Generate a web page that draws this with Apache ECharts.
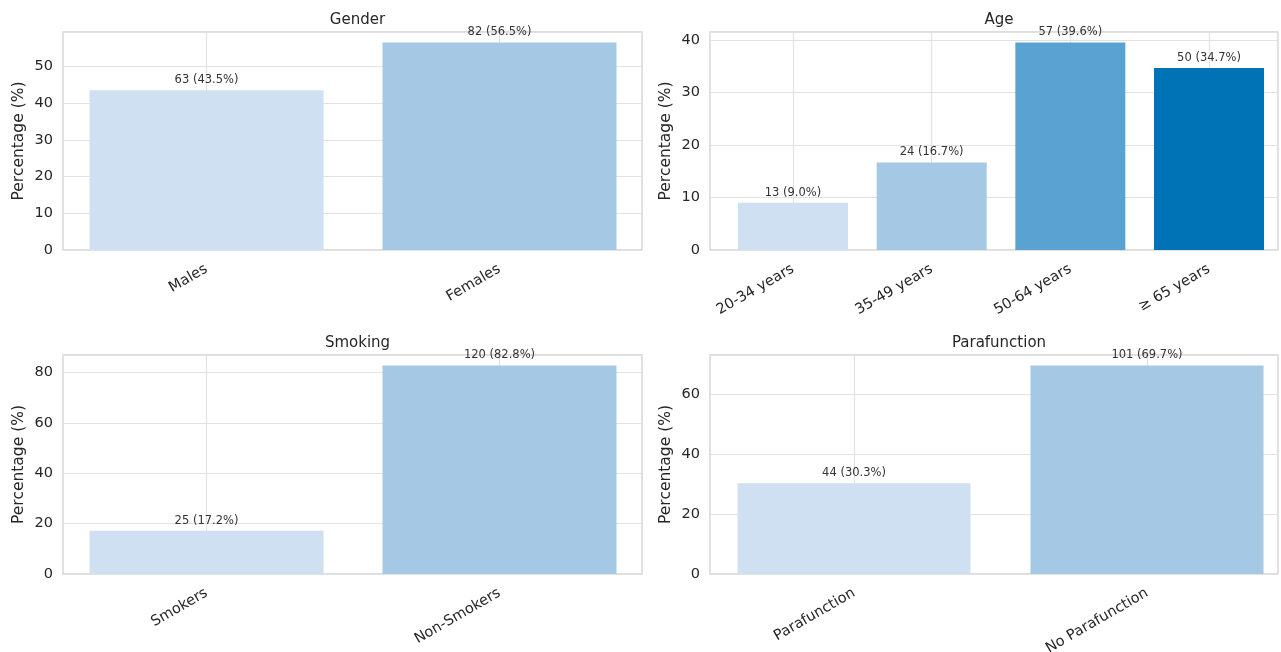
<!DOCTYPE html>
<html>
<head>
<meta charset="utf-8">
<script src="https://cdn.jsdelivr.net/npm/echarts@6/dist/echarts.min.js"></script>
<style>
html,body{margin:0;padding:0;background:#fff;}
#chart{width:1281px;height:652px;}
</style>
</head>
<body>
<div id="chart"></div>
<script>
// Data
const genderCats = ['Males', 'Females'];
const genderCounts = [63, 82];
const genderPct = [43.5, 56.5];

const ageCats = ['20-34 years', '35-49 years', '50-64 years', '\u2265 65 years'];
const ageCounts = [13, 24, 57, 50];
const agePct = [9.0, 16.7, 39.6, 34.7];

const smokingCats = ['Smokers', 'Non-Smokers'];
const smokingCounts = [25, 120];
const smokingPct = [17.2, 82.8];

const paraCats = ['Parafunction', 'No Parafunction'];
const paraCounts = [44, 101];
const paraPct = [30.3, 69.7];

const titles = ['Gender', 'Age', 'Smoking', 'Parafunction'];
const yIntervals = [10, 10, 20, 20];

const palette = ['#cee0f2', '#a5c8e4', '#5aa2d1', '#0073b7'];

const panels = [
  {cats: genderCats, counts: genderCounts, pct: genderPct},
  {cats: ageCats, counts: ageCounts, pct: agePct},
  {cats: smokingCats, counts: smokingCounts, pct: smokingPct},
  {cats: paraCats, counts: paraCounts, pct: paraPct}
];

// frame (axes box) positions
const framePos = [
  {left: 63, top: 32, width: 579, height: 218},
  {left: 710, top: 32, width: 568, height: 218},
  {left: 63, top: 355, width: 579, height: 219},
  {left: 710, top: 355, width: 568, height: 219}
];
// span from first to last category centre, and bar width (layout)
const bandPos = [
  {left: 206.5, width: 293, bar: 234},
  {left: 793, width: 416, bar: 110},
  {left: 206.5, width: 293, bar: 234},
  {left: 854, width: 293, bar: 233}
];

const FONT = 'DejaVu Sans';
const TXT = '#262626';
const grids = [], xAxes = [], yAxes = [], series = [], titleOpts = [];

panels.forEach((p, i) => {
  const f = framePos[i];
  const b = bandPos[i];
  const maxV = Math.max(...p.pct) * 1.05;
  const frameIdx = grids.length;
  grids.push({left: f.left, top: f.top, width: f.width, height: f.height, outerBoundsMode: 'none',
    show: true, borderColor: '#d2d2d2', borderWidth: 1.3, backgroundColor: '#fff'});
  const bandIdx = grids.length;
  grids.push({left: b.left, top: f.top, width: b.width, height: f.height, outerBoundsMode: 'none', show: false});

  titleOpts.push({
    text: titles[i], left: f.left + f.width / 2, top: f.top - 24, textAlign: 'center',
    textStyle: {fontFamily: FONT, fontSize: 15, fontWeight: 'normal', color: TXT}
  });

  // frame axes: y labels + horizontal grid
  xAxes.push({type: 'value', gridIndex: frameIdx, min: 0, max: 1, show: false});
  yAxes.push({
    type: 'value', gridIndex: frameIdx, min: 0, max: maxV, interval: yIntervals[i],
    name: 'Percentage (%)', nameLocation: 'middle', nameGap: 36,
    nameTextStyle: {fontFamily: FONT, fontSize: 15.5, color: TXT},
    axisLine: {show: false}, axisTick: {show: false},
    axisLabel: {fontFamily: FONT, fontSize: 14.5, color: TXT, margin: 10, showMaxLabel: false},
    splitLine: {show: true, lineStyle: {color: '#e2e2e2', width: 1.2}}
  });

  // band axes: category labels + vertical grid lines at category centres
  const catX = xAxes.length;
  xAxes.push({
    type: 'category', gridIndex: bandIdx, data: p.cats, boundaryGap: false,
    axisLine: {show: false}, axisTick: {show: false},
    axisLabel: {rotate: 30, fontFamily: FONT, fontSize: 14.5, color: TXT, margin: 18, interval: 0},
    splitLine: {show: true, interval: 0, lineStyle: {color: '#e2e2e2', width: 1.2}}
  });
  const bandY = yAxes.length;
  yAxes.push({
    type: 'value', gridIndex: bandIdx, min: 0, max: maxV, interval: yIntervals[i],
    axisLine: {show: false}, axisTick: {show: false}, axisLabel: {show: false},
    splitLine: {show: false}
  });

  series.push({
    type: 'bar', xAxisIndex: catX, yAxisIndex: bandY, barWidth: b.bar,
    data: p.pct.map((v, k) => ({value: v, itemStyle: {color: palette[k]}})),
    label: {
      show: true, position: 'top', distance: 4,
      fontFamily: FONT, fontSize: 11.5, color: '#333',
      formatter: (prm) => p.counts[prm.dataIndex] + ' (' + p.pct[prm.dataIndex].toFixed(1) + '%)'
    },
    animation: false
  });
});

const chart = echarts.init(document.getElementById('chart'), null, {renderer: 'canvas'});
chart.setOption({
  backgroundColor: '#fff',
  animation: false,
  title: titleOpts,
  grid: grids,
  xAxis: xAxes,
  yAxis: yAxes,
  series: series
});
</script>
</body>
</html>
